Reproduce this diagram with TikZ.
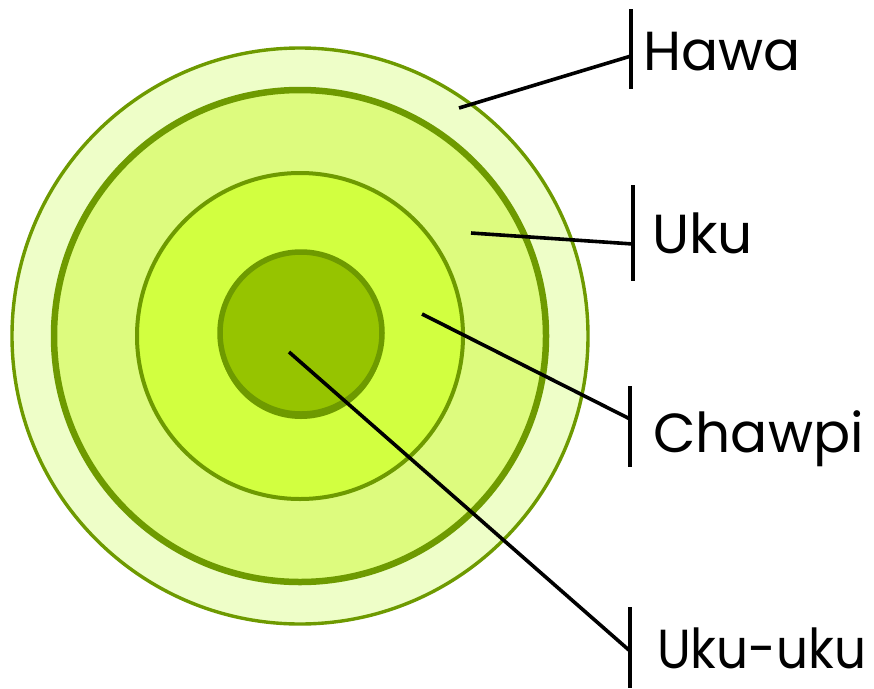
\documentclass[tikz,border=0pt]{standalone}
\usepackage{fontspec}
\setmainfont{Poppins}
\definecolor{ringline}{HTML}{6E9A00}
\definecolor{fillA}{HTML}{EEFEC8}
\definecolor{fillB}{HTML}{DDFB7E}
\definecolor{fillC}{HTML}{D2FF40}
\definecolor{fillD}{HTML}{96C400}
\tikzset{
  ring/.style={draw=ringline},
  conn/.style={draw=black, line width=3.6pt},
  tick/.style={draw=black, line width=3.6pt},
  lbl/.style={anchor=base west, inner sep=0pt, font=\fontsize{55}{60}\selectfont}
}
\begin{document}
\begin{tikzpicture}[x=1pt,y=-1pt]
\useasboundingbox (0,0) rectangle (874,688);
\fill[white] (0,0) rectangle (874,688);
\node[circle, ring, fill=fillA, line width=3.4pt, minimum size=576pt, inner sep=0pt] (c1) at (300,336) {};
\node[circle, ring, fill=fillB, line width=6.5pt, minimum size=492pt, inner sep=0pt] (c2) at (300,336) {};
\node[circle, ring, fill=fillC, line width=4pt, minimum size=326pt, inner sep=0pt] (c3) at (300,336) {};
\node[circle, ring, fill=ringline, line width=2pt, minimum size=162pt, inner sep=0pt] (c4s) at (301,337) {};
\draw[white, line width=1pt] (301,337) ++(200:80) arc[start angle=200, end angle=340, radius=80];
\node[circle, ring, fill=fillD, line width=5.5pt, minimum size=162pt, inner sep=0pt] (c4) at (301,333) {};
% labels
\node[lbl] (hawa) at (643,70) {Hawa};
\node[lbl] (uku) at (652,253) {Uku};
\node[lbl] (chawpi) at (653,452) {Chawpi};
\node[lbl] (ukuuku) at (657,668) {\scalebox{0.91}[1]{Uku-uku}};
% ticks
\coordinate (t1a) at (631,9); \coordinate (t1b) at (631,89);
\coordinate (t2a) at (633,185); \coordinate (t2b) at (633,281);
\coordinate (t3a) at (630,386); \coordinate (t3b) at (630,467);
\coordinate (t4a) at (630,607); \coordinate (t4b) at (630,688);
\draw[tick] (t1a) -- (t1b);
\draw[tick] (t2a) -- (t2b);
\draw[tick] (t3a) -- (t3b);
\draw[tick] (t4a) -- (t4b);
% connectors
\coordinate (p1) at (459,108); \coordinate (q1) at (631,56);
\coordinate (p2) at (471,233); \coordinate (q2) at (633,244);
\coordinate (p3) at (422,314); \coordinate (q3) at (630,419);
\coordinate (p4) at (289,352); \coordinate (q4) at (630,651);
\draw[conn] (p1) -- (q1);
\draw[conn] (p2) -- (q2);
\draw[conn] (p3) -- (q3);
\draw[conn] (p4) -- (q4);
\end{tikzpicture}
\end{document}
